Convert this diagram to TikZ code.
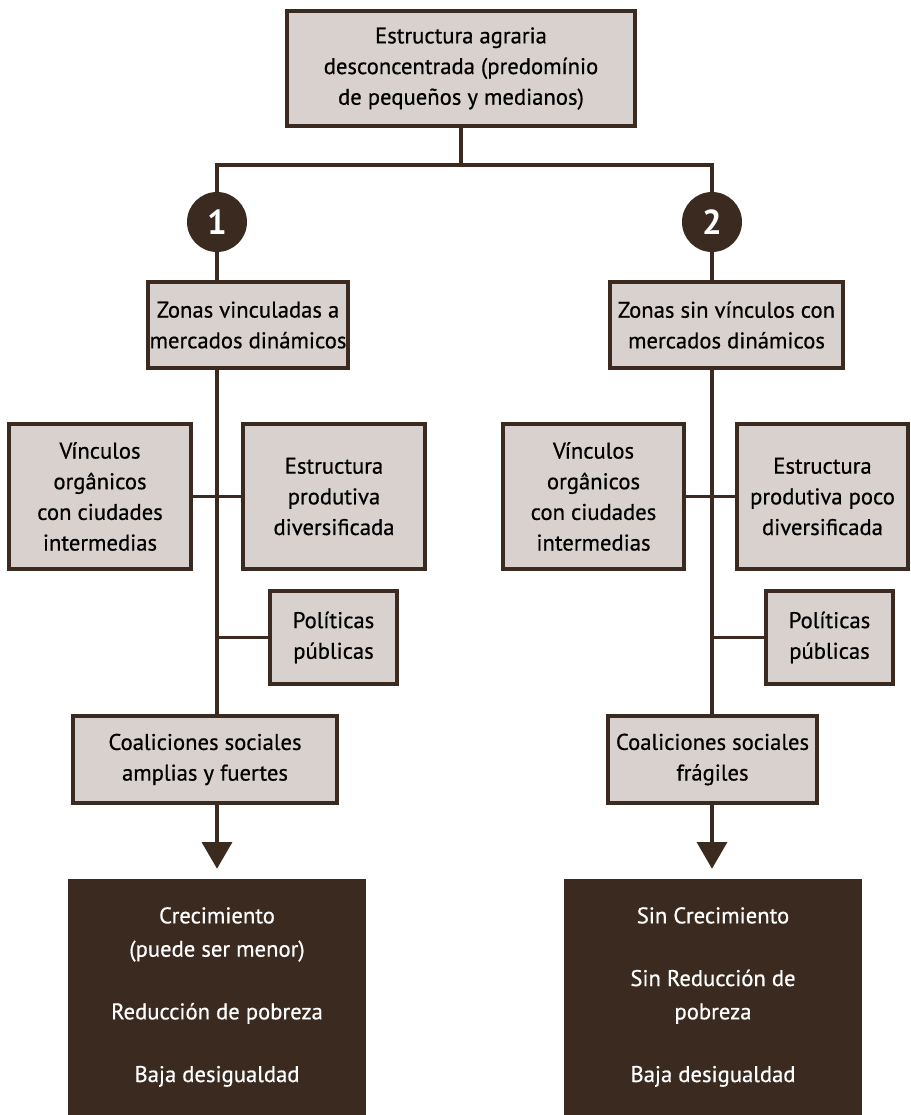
\documentclass[tikz,border=0pt]{standalone}
\usepackage{fontspec}
\setmainfont{PT Sans}[UprightFeatures={FakeBold=0.6}]
\usepackage{tikz}
\usetikzlibrary{arrows.meta}
\definecolor{marron}{HTML}{3B2A1F}
\definecolor{rosado}{HTML}{D9D1CE}

\begin{document}
\begin{tikzpicture}[x=0.75pt,y=-0.75pt,
  caja/.style={draw=marron, line width=2.5pt, fill=rosado, align=center, inner sep=0pt,
    font=\fontsize{17}{23}\selectfont},
  numero/.style={circle, fill=marron, text=white, minimum size=45pt, inner sep=0pt,
    font=\fontsize{26}{26}\selectfont\bfseries},
  resultado/.style={fill=marron, text=white, align=center, inner sep=0pt,
    minimum width=223.5pt, minimum height=177pt, font=\fontsize{17}{25}\selectfont},
  linea/.style={draw=marron, line width=2.5pt},
  flecha/.style={linea, -{Triangle[width=22.5pt,length=20pt]}, shorten >=7.5pt}]
\useasboundingbox (0,0) rectangle (911,1115);

% origen
\node[caja, minimum width=261pt, minimum height=86.25pt] (top) at (461,68.5)
  {Estructura agraria\\desconcentrada (predomínio\\de pequeños y medianos)};
\coordinate (bar) at (461,165);
\node[numero] (num1) at (217,222) {1};
\node[numero] (num2) at (712,222) {2};

% rama 1
\node[caja, minimum width=150pt, minimum height=64.5pt] (zona1) at (248,325)
  {Zonas vinculadas a\\mercados dinámicos};
\node[caja, minimum width=136.5pt, minimum height=108.75pt] (vinc1) at (100,496.5)
  {Vínculos\\orgânicos\\con ciudades\\intermedias};
\node[caja, minimum width=136.5pt, minimum height=108.75pt] (estr1) at (334,496.5)
  {Estructura\\produtiva\\diversificada};
\node[caja, minimum width=95.25pt, minimum height=69.75pt] (pol1) at (333.5,637.5)
  {Políticas\\públicas};
\node[caja, minimum width=198pt, minimum height=65.25pt] (coal1) at (205,759.5)
  {Coaliciones sociales\\amplias y fuertes};
\node[resultado] (res1) at (217,997)
  {Crecimiento\\(puede ser menor)\\[22pt]Reducción de pobreza\\[22pt]Baja desigualdad};

% rama 2
\node[caja, minimum width=174.75pt, minimum height=64.5pt] (zona2) at (726.5,325)
  {Zonas sin vínculos con\\mercados dinámicos};
\node[caja, minimum width=135.75pt, minimum height=108.75pt] (vinc2) at (593.5,496.5)
  {Vínculos\\orgânicos\\con ciudades\\intermedias};
\node[caja, minimum width=128.25pt, minimum height=108.75pt] (estr2) at (822.5,496.5)
  {Estructura\\produtiva poco\\diversificada};
\node[caja, minimum width=95.25pt, minimum height=69.75pt] (pol2) at (829.5,637.5)
  {Políticas\\públicas};
\node[caja, minimum width=156.75pt, minimum height=65.25pt] (coal2) at (712.5,759.5)
  {Coaliciones sociales\\frágiles};
\node[resultado] (res2) at (713,997)
  {Sin Crecimiento\\[22pt]Sin Reducción de\\pobreza\\[22pt]Baja desigualdad};

% conectores
\draw[linea] (top.south) -- (bar);
\draw[linea] (num1) |- (bar) -| (num2);
\draw[linea] (num1) -- (num1 |- zona1.north);
\draw[linea] (num1 |- zona1.south) -- (num1 |- coal1.north);
\draw[linea] (vinc1) -- (estr1);
\draw[linea] (pol1) -- (pol1 -| num1);
\draw[flecha] (num1 |- coal1.south) -- (num1 |- res1.north);
\draw[linea] (num2) -- (num2 |- zona2.north);
\draw[linea] (num2 |- zona2.south) -- (num2 |- coal2.north);
\draw[linea] (vinc2) -- (estr2);
\draw[linea] (pol2) -- (pol2 -| num2);
\draw[flecha] (num2 |- coal2.south) -- (num2 |- res2.north);
\end{tikzpicture}
\end{document}
